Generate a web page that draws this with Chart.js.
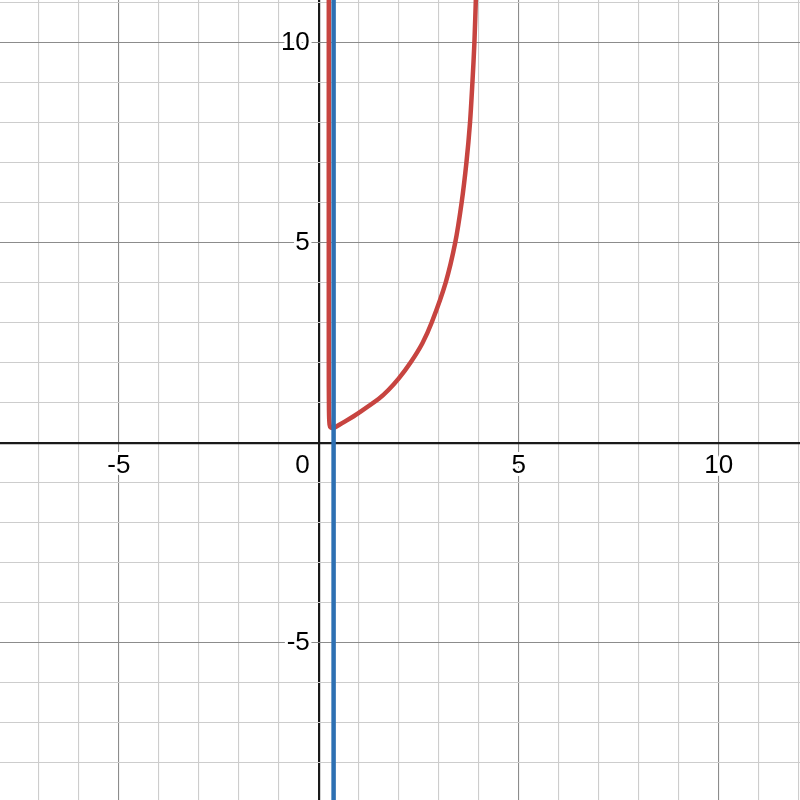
<!DOCTYPE html>
<html>
<head>
<meta charset="utf-8">
<script src="https://cdn.jsdelivr.net/npm/chart.js@4.4.0/dist/chart.umd.min.js"></script>
<style>
html,body{margin:0;padding:0;background:#fff;}
#wrap{width:800px;height:800px;}
</style>
</head>
<body>
<div id="wrap"><canvas id="c" width="800" height="800"></canvas></div>
<script>
// Red curve
const redX = [0.25, 0.25, 0.255, 0.27, 0.30, 0.37, 0.41, 0.70, 1.00, 1.50, 1.74, 2.00, 2.29, 2.59, 2.82, 3.17, 3.41, 3.57, 3.69, 3.78, 3.84, 3.89, 3.93];
const redY = [11.2, 2.0, 0.80, 0.45, 0.38, 0.37, 0.39, 0.56, 0.75, 1.10, 1.32, 1.61, 2.00, 2.49, 3.00, 4.00, 5.00, 6.00, 7.00, 8.00, 9.00, 10.0, 11.2];
// Blue vertical line
const blueX = [0.37, 0.37];
const blueY = [-9.0, 11.2];
// Axis tick labels
const xTickLabels = [-5, 5, 10];
const yTickLabels = [10, 5, -5];
const xRange = [-7.97, 12.03];
const yRange = [-8.93, 11.07];

const toPts = (xs, ys) => xs.map((x, i) => ({x: x, y: ys[i]}));

function intTicks(scale) {
  const t = [];
  for (let v = Math.ceil(scale.min); v <= Math.floor(scale.max); v++) t.push({value: v});
  scale.ticks = t;
}
function gridColor(ctx) {
  const v = ctx.tick ? ctx.tick.value : 1;
  if (v === 0) return '#1a1a1a';
  if (v % 5 === 0) return '#8c8c8c';
  return '#cdcdcd';
}
function gridWidth(ctx) {
  const v = ctx.tick ? ctx.tick.value : 1;
  return v === 0 ? 2.2 : 1.1;
}

const labelPlugin = {
  id: 'axisLabels',
  beforeDatasetsDraw(chart) {
    const ctx = chart.ctx;
    const xs = chart.scales.x, ys = chart.scales.y;
    const x0 = xs.getPixelForValue(0), y0 = ys.getPixelForValue(0);
    ctx.save();
    ctx.font = '26px "Liberation Sans", Arial, sans-serif';
    ctx.lineJoin = 'round';
    ctx.lineWidth = 6;
    ctx.strokeStyle = '#ffffff';
    ctx.fillStyle = '#000000';
    ctx.textBaseline = 'middle';
    const draw = (txt, x, y) => { ctx.strokeText(txt, x, y); ctx.fillText(txt, x, y); };
    ctx.textAlign = 'center';
    xTickLabels.forEach(v => draw(String(v), xs.getPixelForValue(v), y0 + 23));
    ctx.textAlign = 'right';
    yTickLabels.forEach(v => draw(String(v), x0 - 9, ys.getPixelForValue(v)));
    draw('0', x0 - 9, y0 + 23);
    ctx.restore();
  }
};

new Chart(document.getElementById('c'), {
  type: 'scatter',
  data: {
    datasets: [
      {data: toPts(blueX, blueY), showLine: true, borderColor: '#2d70b3', borderWidth: 4.5, pointRadius: 0, tension: 0, borderCapStyle: 'butt'},
      {data: toPts(redX, redY), showLine: true, borderColor: '#c74440', borderWidth: 4.5, pointRadius: 0, tension: 0.3, borderJoinStyle: 'round', borderCapStyle: 'round'}
    ]
  },
  options: {
    responsive: false,
    animation: false,
    devicePixelRatio: 1,
    layout: {padding: 0},
    plugins: {legend: {display: false}, tooltip: {enabled: false}},
    scales: {
      x: {type: 'linear', min: xRange[0], max: xRange[1], afterBuildTicks: intTicks,
          ticks: {display: false}, border: {display: false},
          grid: {drawTicks: false, color: gridColor, lineWidth: gridWidth}},
      y: {type: 'linear', min: yRange[0], max: yRange[1], afterBuildTicks: intTicks,
          ticks: {display: false}, border: {display: false},
          grid: {drawTicks: false, color: gridColor, lineWidth: gridWidth}}
    }
  },
  plugins: [labelPlugin]
});
</script>
</body>
</html>
